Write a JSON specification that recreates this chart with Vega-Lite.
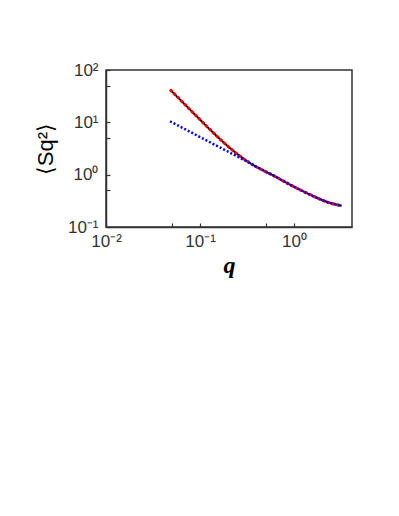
{
  "$schema": "https://vega.github.io/schema/vega-lite/v6.json",
  "autosize": "none",
  "width": 246,
  "height": 157,
  "padding": {"top": 70, "left": 106, "right": 47, "bottom": 289},
  "background": "white",
  "config": {
    "view": {"stroke": "#333333", "strokeWidth": 1.5},
    "axis": {"grid": false, "domainColor": "#333333", "domainWidth": 1.5, "tickColor": "#333333", "tickWidth": 1.2, "labelColor": "#333333", "labelFont": "Liberation Sans", "labelFontSize": 17}
  },
  "data": {
    "values": [
      {"q": 0.048, "S": 42.2, "series": "full"},
      {"q": 0.0783, "S": 17.5, "series": "full"},
      {"q": 0.1, "S": 11.26, "series": "full"},
      {"q": 0.1277, "S": 7.28, "series": "full"},
      {"q": 0.163, "S": 4.78, "series": "full"},
      {"q": 0.2085, "S": 3.22, "series": "full"},
      {"q": 0.2664, "S": 2.26, "series": "full"},
      {"q": 0.301, "S": 1.93, "series": "full"},
      {"q": 0.34, "S": 1.67, "series": "full"},
      {"q": 0.385, "S": 1.456, "series": "full"},
      {"q": 0.491, "S": 1.16, "series": "full"},
      {"q": 0.628, "S": 0.927, "series": "full"},
      {"q": 0.906, "S": 0.644, "series": "full"},
      {"q": 1.48, "S": 0.415, "series": "full"},
      {"q": 2.41, "S": 0.288, "series": "full"},
      {"q": 3.21, "S": 0.255, "series": "full"},
      {"q": 0.048, "S": 10.45, "series": "approx"},
      {"q": 0.1, "S": 5.24, "series": "approx"},
      {"q": 0.163, "S": 3.31, "series": "approx"},
      {"q": 0.2664, "S": 2.09, "series": "approx"},
      {"q": 0.34, "S": 1.66, "series": "approx"},
      {"q": 0.385, "S": 1.456, "series": "approx"},
      {"q": 0.491, "S": 1.16, "series": "approx"},
      {"q": 0.628, "S": 0.927, "series": "approx"},
      {"q": 0.906, "S": 0.644, "series": "approx"},
      {"q": 1.48, "S": 0.415, "series": "approx"},
      {"q": 2.41, "S": 0.288, "series": "approx"},
      {"q": 3.21, "S": 0.255, "series": "approx"}
    ]
  },
  "encoding": {
    "x": {
      "field": "q", "type": "quantitative",
      "scale": {"type": "log", "domain": [0.01, 4.14], "nice": false},
      "axis": {
        "values": [0.01, 0.05, 0.1, 0.5, 1],
        "labelExpr": "datum.value == 0.01 ? '10⁻²' : datum.value == 0.1 ? '10⁻¹' : datum.value == 1 ? '10⁰' : ''",
        "tickSize": -4, "labelPadding": 10, "labelFlush": false,
        "title": "q", "titleFont": "Liberation Serif", "titleFontStyle": "italic", "titleFontWeight": "bold", "titleFontSize": 24, "titleColor": "#000000", "titlePadding": 4
      }
    },
    "y": {
      "field": "S", "type": "quantitative",
      "scale": {"type": "log", "domain": [0.1, 100], "nice": false},
      "axis": {
        "values": [0.1, 0.5, 1, 5, 10, 50, 100],
        "labelExpr": "datum.value == 0.1 ? '10⁻¹' : datum.value == 1 ? '10⁰' : datum.value == 10 ? '10¹' : datum.value == 100 ? '10²' : ''",
        "tickSize": -4, "labelPadding": 12, "labelFlush": false,
        "title": "⟨Sq²⟩", "titleFont": "Liberation Sans", "titleFontSize": 22, "titleFontWeight": "normal", "titleColor": "#000000", "titlePadding": 10
      }
    }
  },
  "layer": [
    {
      "transform": [{"filter": "datum.series == 'full'"}],
      "mark": {"type": "line", "interpolate": "monotone", "strokeWidth": 2, "color": "#000000", "clip": true}
    },
    {
      "transform": [{"filter": "datum.series == 'full'"}],
      "mark": {"type": "line", "interpolate": "monotone", "strokeWidth": 3, "color": "#ff0000", "strokeDash": [3, 2], "clip": true}
    },
    {
      "transform": [{"filter": "datum.series == 'approx'"}],
      "mark": {"type": "line", "interpolate": "monotone", "strokeWidth": 2.5, "color": "#0000ff", "strokeDash": [2, 2], "clip": true}
    }
  ]
}
